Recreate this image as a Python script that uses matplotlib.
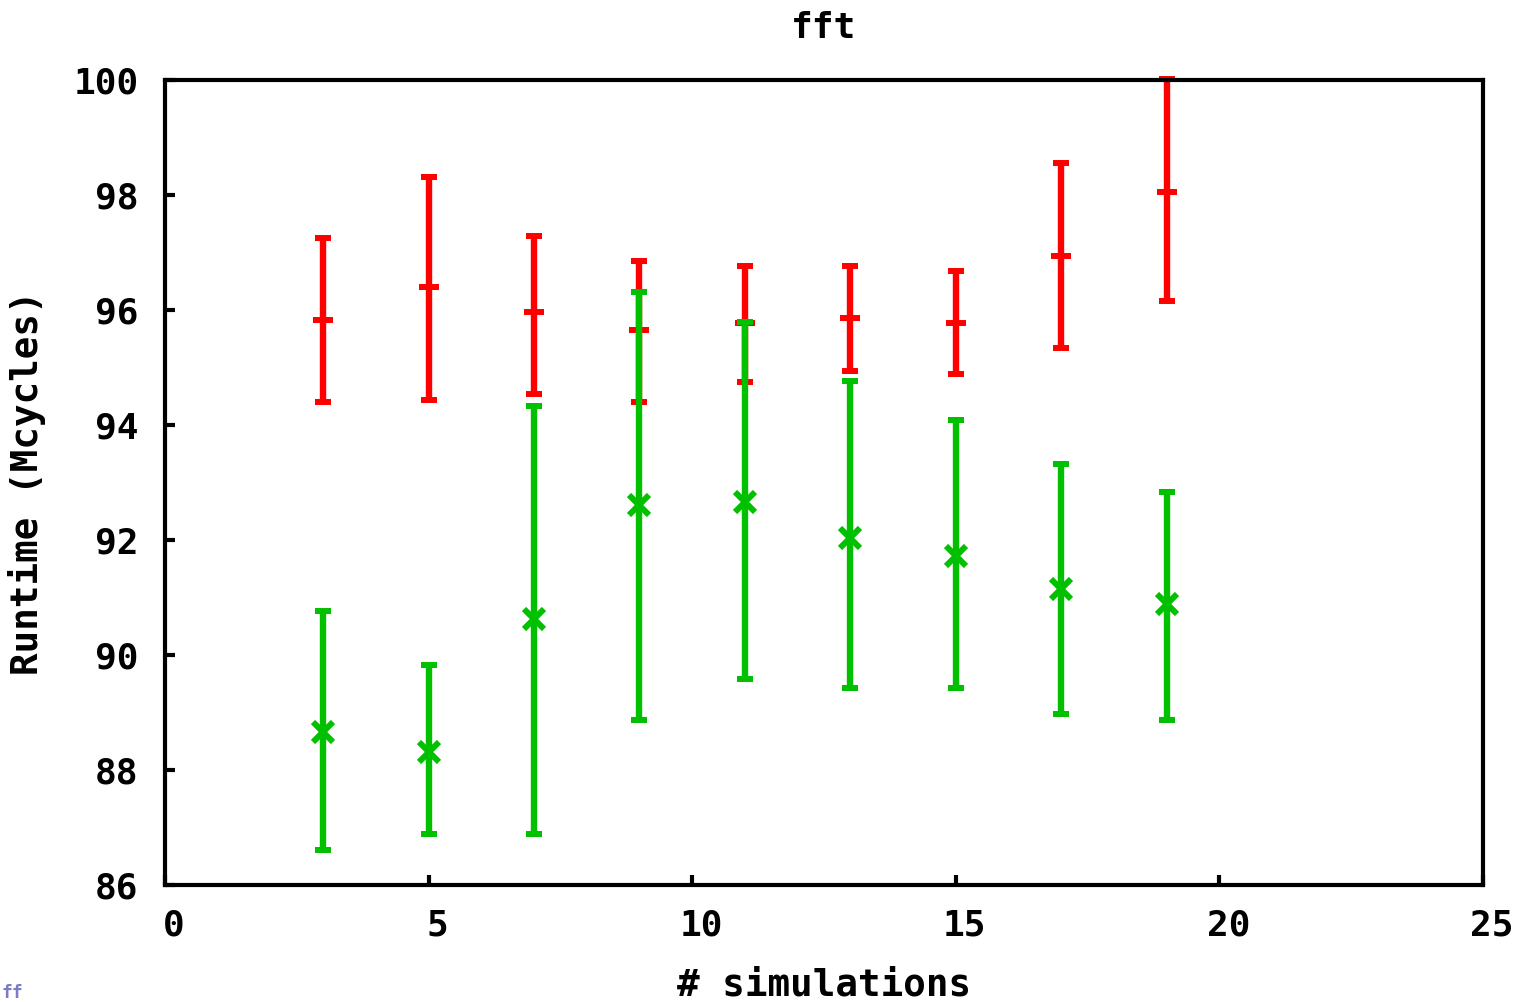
import numpy as np
import matplotlib.pyplot as plt
import matplotlib.transforms as mtransforms

sims = [3, 5, 7, 9, 11, 13, 15, 17, 19]

red_mean = [95.83, 96.40, 95.97, 95.65, 95.77, 95.86, 95.77, 96.94, 98.05]
red_low = [94.40, 94.43, 94.54, 94.40, 94.75, 94.94, 94.89, 95.34, 96.16]
red_high = [97.25, 98.31, 97.29, 96.85, 96.77, 96.77, 96.68, 98.56, 100.02]

green_mean = [88.66, 88.31, 90.63, 92.61, 92.66, 92.03, 91.72, 91.15, 90.89]
green_low = [86.61, 86.89, 86.89, 88.87, 89.58, 89.43, 89.43, 88.97, 88.87]
green_high = [90.77, 89.83, 94.33, 96.31, 95.79, 94.77, 94.09, 93.32, 92.83]

plt.rcParams['font.family'] = ['DejaVu Sans Mono']
plt.rcParams['font.weight'] = 'bold'

fig = plt.figure(figsize=(15.26, 10.02), dpi=100)
ax = fig.add_axes([0.1081, 0.1168, 0.8637, 0.8034])


def draw(mean, low, high, color, marker):
    mean = np.array(mean)
    yerr = [mean - np.array(low), np.array(high) - mean]
    ax.errorbar(sims, mean, yerr=yerr, fmt='none', ecolor=color,
                elinewidth=4.6, capsize=6, capthick=4.3, clip_on=False)
    ax.plot(sims, mean, linestyle='none', marker=marker, color=color,
            markersize=15, markeredgewidth=4.3, clip_on=False)


draw(red_mean, red_low, red_high, '#ff0000', '+')
draw(green_mean, green_low, green_high, '#00c000', 'x')

ax.set_xlim(0, 25)
ax.set_ylim(86, 100)
ax.set_xticks([0, 5, 10, 15, 20, 25])
ax.set_yticks([86, 88, 90, 92, 94, 96, 98, 100])
ax.tick_params(direction='in', length=7, width=3, labelsize=26,
               top=False, right=False)
ax.tick_params(axis='x', pad=17)
ax.tick_params(axis='y', pad=19)
for s in ax.spines.values():
    s.set_linewidth(3)

# gnuplot puts the x tick labels a little right of the ticks
shift = mtransforms.ScaledTranslation(9 / 100, 0, fig.dpi_scale_trans)
for lbl in ax.get_xticklabels():
    lbl.set_transform(lbl.get_transform() + shift)

ax.set_title('fft', fontsize=26, fontweight='bold', pad=30)
ax.set_xlabel('# simulations', fontsize=27, fontweight='bold', labelpad=18)
ax.set_ylabel('Runtime (Mcycles)', fontsize=27, fontweight='bold', labelpad=20)

fig.text(0.001, 0.004, 'ff', color='#7b7bc8', fontsize=13)

fig.savefig('out.png', dpi=100)
